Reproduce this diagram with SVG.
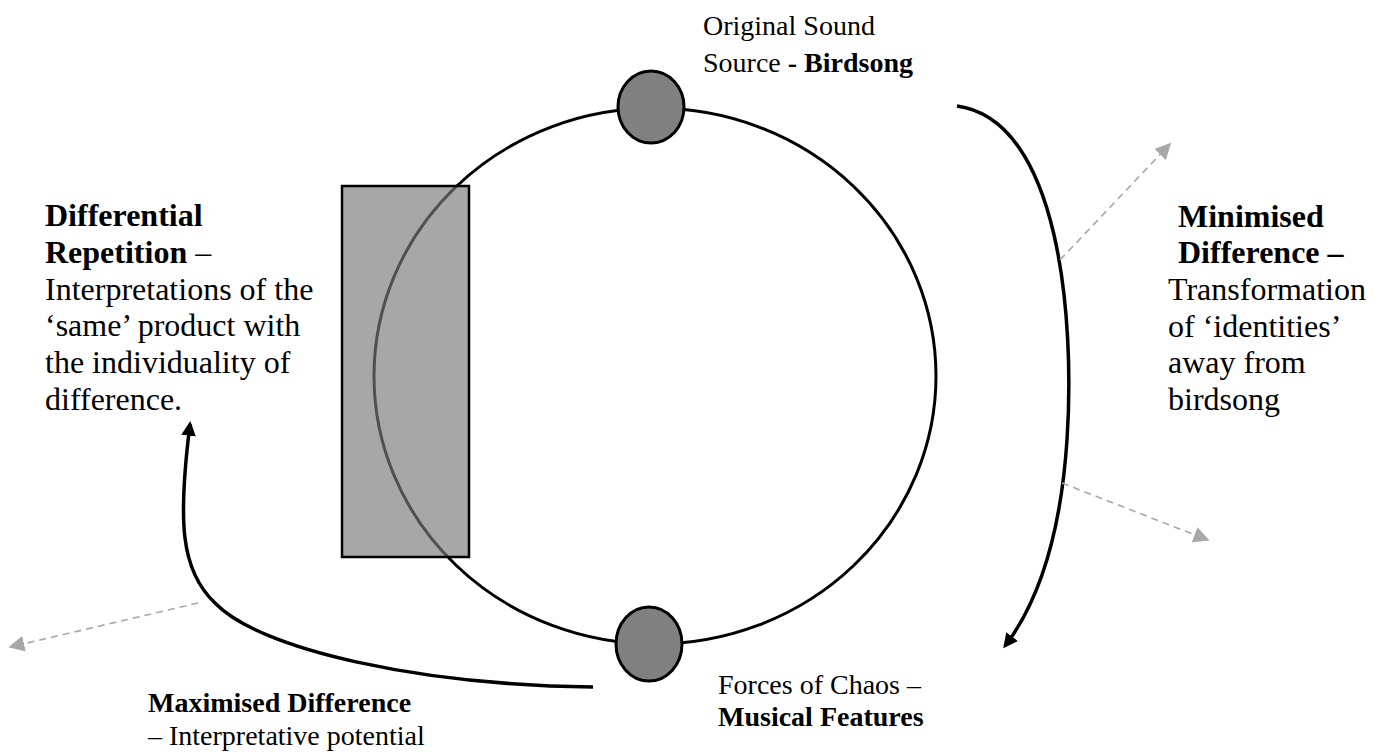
<svg xmlns="http://www.w3.org/2000/svg" width="1397" height="752" viewBox="0 0 1397 752">
<defs>
<style>
.t{font-family:"Liberation Serif","Times New Roman",serif;font-size:28px;fill:#000}
.l{font-size:32px}
.b{font-weight:bold}
.ring{fill:none;stroke:#000;stroke-width:3}
.node{fill:#808080;stroke:#000;stroke-width:3}
.main{fill:none;stroke:#000;stroke-width:3.5}
.dash{fill:none;stroke:#a8a8a8;stroke-width:1.6;stroke-dasharray:7 5}
</style>
<marker id="ah" viewBox="0 0 10 10" refX="8" refY="5" markerWidth="4.2" markerHeight="4.2" orient="auto" markerUnits="strokeWidth">
<path d="M0,0 L10,5 L0,10 z" fill="#000"/>
</marker>
<marker id="gh" viewBox="0 0 10 10" refX="9" refY="5" markerWidth="10" markerHeight="10" orient="auto" markerUnits="strokeWidth">
<path d="M0,0 L10,5 L0,10 z" fill="#a8a8a8"/>
</marker>
</defs>
<rect width="1397" height="752" fill="#fff"/>
<g id="cycle">
<ellipse class="ring" cx="655" cy="376" rx="281" ry="268"/>
</g>
<g id="differential-repetition-box">
<rect x="342" y="186" width="127" height="371" fill="#7a7a7a" fill-opacity="0.66" stroke="#000" stroke-width="2.5"/>
</g>
<g id="node-birdsong">
<ellipse class="node" cx="651" cy="107" rx="33" ry="36"/>
</g>
<g id="node-chaos">
<ellipse class="node" cx="649" cy="644" rx="33" ry="37"/>
</g>
<g id="connectors">
<path class="main" d="M957,106 C1060,120 1075,320 1067,440 C1061,530 1040,600 1005,646" marker-end="url(#ah)"/>
<path class="main" d="M593,687 C420,685 260,650 215,603 C180,570 178,520 190,424" marker-end="url(#ah)"/>
<path class="dash" d="M1060,260 L1170,144" marker-end="url(#gh)"/>
<path class="dash" d="M1062,483 L1208,540" marker-end="url(#gh)"/>
<path class="dash" d="M198,603 L10,647" marker-end="url(#gh)"/>
</g>
<g id="label-birdsong">
<text class="t" x="703" y="35">Original Sound</text>
<text class="t" x="703" y="72">Source <tspan class="b">- Birdsong</tspan></text>
</g>
<g id="label-differential">
<text class="t l b" x="45" y="226">Differential</text>
<text class="t l" x="45" y="263"><tspan class="b">Repetition</tspan> –</text>
<text class="t l" x="45" y="300">Interpretations of the</text>
<text class="t l" x="45" y="336">‘same’ product with</text>
<text class="t l" x="45" y="373">the individuality of</text>
<text class="t l" x="45" y="410">difference.</text>
</g>
<g id="label-minimised">
<text class="t l b" x="1178" y="227">Minimised</text>
<text class="t l b" x="1178" y="263">Difference –</text>
<text class="t l" x="1168" y="300">Transformation</text>
<text class="t l" x="1168" y="337">of ‘identities’</text>
<text class="t l" x="1168" y="373">away from</text>
<text class="t l" x="1168" y="410">birdsong</text>
</g>
<g id="label-chaos">
<text class="t" x="718" y="694">Forces of Chaos –</text>
<text class="t b" x="718" y="726">Musical Features</text>
</g>
<g id="label-maximised">
<text class="t b" x="148" y="712">Maximised Difference</text>
<text class="t" x="148" y="745">– Interpretative potential</text>
</g>
</svg>
